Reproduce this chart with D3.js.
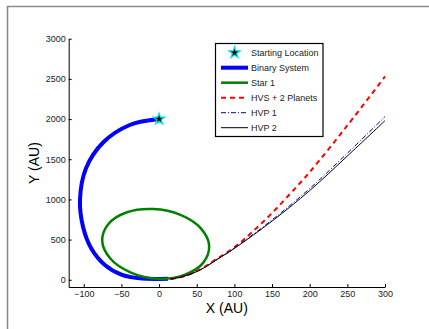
<!DOCTYPE html>
<html>
<head>
<meta charset="utf-8">
<script src="https://cdn.jsdelivr.net/npm/d3@7"></script>
<style>
  body { margin: 0; background: #fff; }
  svg { display: block; font-family: "Liberation Sans", Arial, sans-serif; }
  .axis path, .axis line { stroke: #000; stroke-width: 1; }
  .axis text { font-size: 9px; fill: #222; }
</style>
</head>
<body>
<div id="chart"></div>
<script>
// ---------------- data ----------------
const xTicks = [-100, -50, 0, 50, 100, 150, 200, 250, 300];
const yTicks = [0, 500, 1000, 1500, 2000, 2500, 3000];

const startX = [0];
const startY = [2000];

// binary system centre of mass
const binaryX = [0, -39, -74, -97, -105, -101, -90, -72, -50, -26, 0, 12];
const binaryY = [2000, 1926, 1711, 1388, 1000, 660, 390, 185, 65, 18, 10, 12];

// star 1 orbit (closed)
const star1X = [66.5, 55.5, 28.4, -7.5, -42.6, -67.5, -75.5, -64.5, -37.4, -1.5, 33.6, 58.5];
const star1Y = [425, 640, 808, 880, 840, 692, 481, 262, 90, 12, 60, 210];

// ejected trajectories
const hvsX = [15, 30, 45, 60, 75, 100, 125, 150, 175, 200, 250, 300];
const hvsY = [8, 36, 85, 158, 250, 405, 605, 830, 1080, 1340, 1920, 2530];

const hvp1X = [15, 30, 45, 60, 75, 100, 150, 200, 250, 300];
const hvp1Y = [8, 35, 83, 152, 242, 395, 745, 1135, 1575, 2030];

const hvp2X = [15, 30, 45, 60, 75, 100, 150, 200, 250, 300];
const hvp2Y = [8, 35, 82, 150, 240, 390, 730, 1110, 1540, 1980];

const legendNames = ["Starting Location", "Binary System", "Star 1", "HVS + 2 Planets", "HVP 1", "HVP 2"];

// ---------------- layout ----------------
const W = 429, H = 329;
const mLeft = 68.7, mRight = 385, mTop = 38.7, mBottom = 287;

const svg = d3.select("#chart").append("svg")
    .attr("width", W).attr("height", H);

// outer frame (only left and top visible)
svg.append("path")
    .attr("d", "M7.5," + H + "V6.5H" + W)
    .attr("fill", "none")
    .attr("stroke", "#8a8a8a")
    .attr("stroke-width", 1.6);

const xScale = d3.scaleLinear().domain([-120, 300]).range([mLeft, mRight]);
const yScale = d3.scaleLinear().domain([-90, 3000]).range([mBottom, mTop]);

const zip = (xs, ys) => xs.map((x, i) => [x, ys[i]]);

const line = d3.line()
    .x(d => xScale(d[0]))
    .y(d => yScale(d[1]))
    .curve(d3.curveCatmullRom);

const closedLine = d3.line()
    .x(d => xScale(d[0]))
    .y(d => yScale(d[1]))
    .curve(d3.curveCatmullRomClosed);

// ---------------- series ----------------
const series = [
  { pts: zip(binaryX, binaryY), color: "#0000ff", width: 4, dash: null, gen: line },
  { pts: zip(star1X, star1Y), color: "#008000", width: 2.5, dash: null, gen: closedLine },
  { pts: zip(hvsX, hvsY), color: "#ff0000", width: 2, dash: "5,4", gen: line },
  { pts: zip(hvp1X, hvp1Y), color: "#0000aa", width: 1, dash: "5,2,1,2", gen: line },
  { pts: zip(hvp2X, hvp2Y), color: "#000000", width: 1, dash: null, gen: line }
];

series.forEach(s => {
  svg.append("path")
    .attr("d", s.gen(s.pts))
    .attr("fill", "none")
    .attr("stroke", s.color)
    .attr("stroke-width", s.width)
    .attr("stroke-dasharray", s.dash);
});

// starting location marker
const star = d3.symbol().type(d3.symbolStar).size(40);
svg.selectAll(".start")
  .data(zip(startX, startY))
  .enter().append("path")
    .attr("class", "start")
    .attr("transform", d => "translate(" + xScale(d[0]) + "," + yScale(d[1]) + ")")
    .attr("d", star)
    .attr("fill", "#000")
    .attr("stroke", "#00e5ee")
    .attr("stroke-width", 1.2);

// ---------------- axes ----------------
svg.append("g")
    .attr("class", "axis")
    .attr("transform", "translate(0," + mBottom + ")")
    .call(d3.axisBottom(xScale).tickValues(xTicks).tickSize(-3).tickSizeOuter(0).tickPadding(4));

svg.append("g")
    .attr("class", "axis")
    .attr("transform", "translate(" + mLeft + ",0)")
    .call(d3.axisLeft(yScale).tickValues(yTicks).tickFormat(d3.format("d"))
      .tickSize(-3).tickSizeOuter(0).tickPadding(3));

svg.append("text")
    .attr("x", (mLeft + mRight) / 2)
    .attr("y", 313)
    .attr("text-anchor", "middle")
    .style("font-size", "14px")
    .text("X (AU)");

svg.append("text")
    .attr("transform", "translate(39,163) rotate(-90)")
    .attr("text-anchor", "middle")
    .style("font-size", "14px")
    .text("Y (AU)");

// ---------------- legend ----------------
const lg = svg.append("g");
lg.append("rect")
    .attr("x", 215.5).attr("y", 43.5)
    .attr("width", 107.5).attr("height", 93)
    .attr("fill", "#fff")
    .attr("stroke", "#000")
    .attr("stroke-width", 1.2);

legendNames.forEach((name, i) => {
  const y = 52.7 + i * 15;
  if (i === 0) {
    lg.append("path")
      .attr("transform", "translate(234.5," + y + ")")
      .attr("d", star)
      .attr("fill", "#000")
      .attr("stroke", "#00e5ee")
      .attr("stroke-width", 1.2);
  } else {
    const s = series[i - 1];
    lg.append("line")
      .attr("x1", 221).attr("x2", 248)
      .attr("y1", y).attr("y2", y)
      .attr("stroke", s.color)
      .attr("stroke-width", s.width)
      .attr("stroke-dasharray", s.dash);
  }
  lg.append("text")
    .attr("x", 251)
    .attr("y", y + 3)
    .style("font-size", "9px")
    .attr("fill", "#222")
    .text(name);
});
</script>
</body>
</html>
